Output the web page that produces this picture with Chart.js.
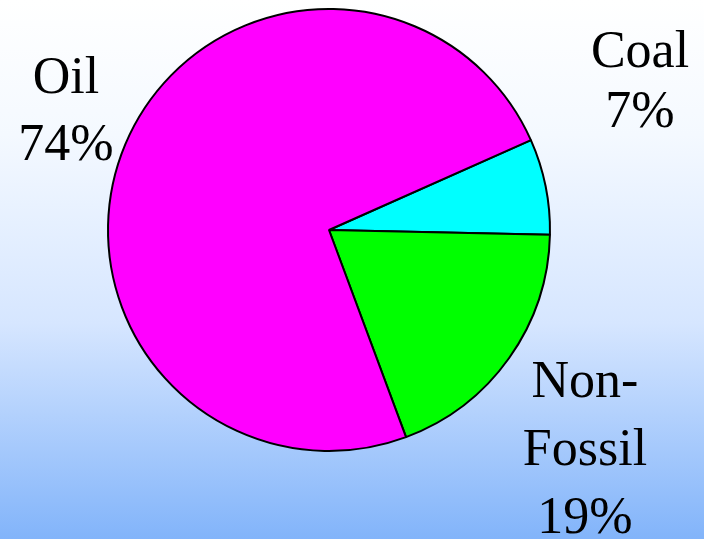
<!DOCTYPE html>
<html>
<head>
<meta charset="utf-8">
<script src="https://cdn.jsdelivr.net/npm/chart.js@4"></script>
<style>
  html, body { margin: 0; padding: 0; }
  body {
    width: 704px; height: 539px; overflow: hidden;
    background: linear-gradient(to bottom, #ffffff 0%, #f4f9ff 25%, #d6e6ff 60%, #82b4fa 100%);
  }
  #wrap { position: relative; width: 704px; height: 539px; }
</style>
</head>
<body>
<div id="wrap"><canvas id="energiaChart" width="704" height="539"></canvas></div>
<script>
// fatias no sentido horario, a partir do Coal
const categorias = ['Coal', 'Non-Fossil', 'Oil'];
const linhasRotulo = [['Coal'], ['Non-', 'Fossil'], ['Oil']];
const percentuais = [7, 19, 74];
const cores = ['#00ffff', '#00ff00', '#ff00ff'];

// posicao dos rotulos (x central, linha de base da primeira linha, espacamento)
const posRotulos = [
    { x: 640, y: 67, passo: 60 },
    { x: 585, y: 397, passo: 68 },
    { x: 66, y: 93, passo: 67 }
];

const rotulosPlugin = {
    id: 'rotulos',
    afterDraw(chart) {
        const ctx = chart.ctx;
        ctx.save();
        ctx.fillStyle = '#000';
        ctx.font = '52px "Liberation Serif", "Times New Roman", serif';
        ctx.textAlign = 'center';
        ctx.textBaseline = 'alphabetic';
        categorias.forEach((cat, i) => {
            const p = posRotulos[i];
            const linhas = linhasRotulo[i].concat([percentuais[i] + '%']);
            linhas.forEach((txt, j) => {
                ctx.fillText(txt, p.x, p.y + j * p.passo);
            });
        });
        ctx.restore();
    }
};

new Chart(document.getElementById('energiaChart'), {
    type: 'pie',
    data: {
        labels: categorias,
        datasets: [{
            data: percentuais,
            backgroundColor: cores,
            borderColor: '#000',
            borderWidth: 2
        }]
    },
    options: {
        responsive: false,
        animation: false,
        rotation: 66,
        layout: { padding: { top: 8, bottom: 87, left: 107, right: 153 } },
        plugins: {
            legend: { display: false },
            tooltip: { enabled: false }
        }
    },
    plugins: [rotulosPlugin]
});
</script>
</body>
</html>
